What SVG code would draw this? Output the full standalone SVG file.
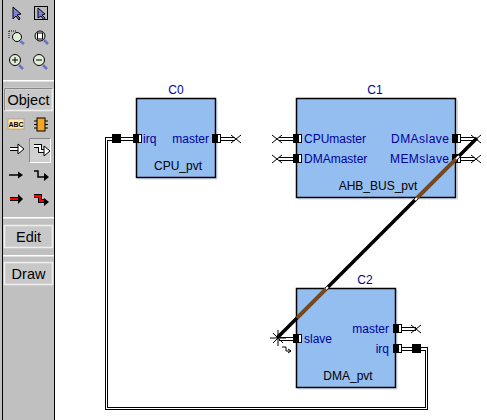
<svg xmlns="http://www.w3.org/2000/svg" width="487" height="420" viewBox="0 0 487 420">
<style>
.n{fill:#94bdf0;stroke:#000;stroke-width:1.5}
.sh{fill:none;stroke:#c4d8f2;stroke-width:1}
text{font-family:"Liberation Sans",Arial,sans-serif;font-size:12px}
.b{fill:#00009c}
.k{fill:#000}
.m{text-anchor:middle}
.e{text-anchor:end}
.w{fill:none;stroke:#000;stroke-width:1;shape-rendering:crispEdges}
.x{fill:none;stroke:#000;stroke-width:1}
.tl{font-size:14.500px;fill:#000;text-anchor:middle}
.btn{fill:#c8c8c8;stroke:#eee;stroke-width:1.500}
.ok{fill:none;stroke:#000;stroke-width:4}
.iw{fill:none;stroke:#fff;stroke-width:2}
.ir{fill:none;stroke:#f00;stroke-width:2}
.ik{fill:none;stroke:#000;stroke-width:1.500}
.lens{stroke:#000;fill:#dff0d8}
.hd{stroke:#6a70d0;stroke-width:2.500}
</style>
<defs>
<g id="pl"><rect x="0.500" y="0.500" width="8" height="8" fill="#fff" stroke="#000"/><rect x="0" y="0" width="6" height="9" fill="#000"/></g>
<path id="xm" class="x" d="M-5,-4L5,4M-5,4L5,-4"/>
<path id="stub" class="w" d="M0,137.500H14M0,140.500H14"/>
</defs>
<rect width="487" height="420" fill="#fff"/>
<g id="toolbar">
<rect x="0" y="0" width="55" height="420" fill="#c0c0c0"/>
<rect x="2" y="0" width="1" height="420" fill="#000"/>
<rect x="54" y="0" width="1" height="420" fill="#000"/>
<path d="M13,7L13,19L16,16L19,20L20,18L17,15L21,14Z" fill="#7a80e0" stroke="#000"/>
<rect x="34.500" y="6.500" width="13" height="13" fill="#bbb" stroke="#000"/>
<path d="M38,8L38,18L41,16L44,20L45,18L42,15L45,14Z" fill="#7a80e0" stroke="#000"/>
<path d="M9,31h8M9,31v8" stroke="#000" stroke-dasharray="1 1" fill="none"/>
<circle cx="17" cy="37" r="4.500" class="lens"/>
<path d="M20,41L24,44" class="hd"/>
<circle cx="40" cy="36" r="5" fill="#e8e8e8" stroke="#000"/>
<rect x="37.500" y="33" width="5" height="6" fill="#fff" stroke="#000"/>
<path d="M44,40L48,44" class="hd"/>
<circle cx="15" cy="60" r="5.500" class="lens"/>
<path d="M12,60h6M15,57v6" stroke="#000"/>
<path d="M19,65L23,69" class="hd"/>
<circle cx="39" cy="60" r="5.500" class="lens"/>
<path d="M36,60h6" stroke="#000"/>
<path d="M43,65L47,69" class="hd"/>
<rect x="3" y="80" width="51" height="1.500" fill="#fff"/>
<rect x="4.500" y="88.500" width="48" height="22" class="btn"/>
<path d="M4.500,110.500V88.500H52.500" fill="none" stroke="#888"/>
<text x="28.500" y="105" class="tl">Object</text>
<rect x="8" y="119" width="16" height="10" fill="#ffe9b0" stroke="#a08040" stroke-width="0.500"/>
<text x="16" y="127" text-anchor="middle" style="font-size:7px;font-weight:bold" fill="#000">ABC</text>
<rect x="37" y="118" width="8" height="13" fill="#f5a623" stroke="#000"/>
<path d="M34,121h3M34,124.500h3M34,128h3M45,121h3M45,124.500h3M45,128h3" stroke="#000"/>
<path d="M10,149H19" class="ok"/><path d="M10,149H20" class="iw"/>
<path d="M18,144L24,149L18,154Z" fill="#fff" stroke="#000"/>
<rect x="29.500" y="138.500" width="21" height="24" fill="#d0d0d0" stroke="#fff"/>
<path d="M29.500,162.500V138.500H50.500" fill="none" stroke="#888"/>
<path d="M34,146H40V151H45" class="ok"/><path d="M34,146H40V151H46" class="iw"/>
<path d="M44,146L50,151L44,156Z" fill="#fff" stroke="#000"/>
<path d="M9,175H19" class="ik"/>
<path d="M18,171.500L23,175L18,178.500Z" fill="#000"/>
<path d="M34,171H38V177H44" class="ik"/>
<path d="M44,173L49,177L44,181Z" fill="#000"/>
<path d="M10,199H19" class="ok"/><path d="M10,199H20" class="ir"/>
<path d="M18,194L23,199L18,204Z" fill="#000"/>
<path d="M34,196H40V201H45" class="ok"/><path d="M34,196H40V201H45" class="ir"/>
<path d="M44,198L49,202L44,206Z" fill="#000"/>
<rect x="3" y="217" width="51" height="1.500" fill="#fff"/>
<rect x="4.500" y="225.500" width="48" height="22" class="btn"/>
<text x="28.500" y="242" class="tl">Edit</text>
<rect x="3" y="255" width="51" height="1.500" fill="#fff"/>
<rect x="4.500" y="262.500" width="48" height="22" class="btn"/>
<text x="28.500" y="279" class="tl">Draw</text>
</g>
<g id="C0">
<path class="sh" d="M217,100V179H138"/>
<rect class="n" x="136.500" y="98.500" width="79" height="79"/>
<text class="b m" x="176" y="94">C0</text>
<text class="b" x="143" y="143">irq</text>
<text class="b e" x="209" y="143">master</text>
<text class="k m" x="178" y="170">CPU_pvt</text>
<use href="#pl" x="133" y="134"/>
<use href="#pl" x="212" y="134"/>
</g>
<g id="C1">
<path class="sh" d="M457.500,100V199H298"/>
<rect class="n" x="296.500" y="98.500" width="159" height="99"/>
<text class="b m" x="375" y="94">C1</text>
<text class="b" x="304" y="143">CPUmaster</text>
<text class="b" x="304" y="163">DMAmaster</text>
<text class="b e" x="449" y="143" textLength="58">DMAslave</text>
<text class="b e" x="449" y="163" textLength="59">MEMslave</text>
<text class="k m" x="378" y="190">AHB_BUS_pvt</text>
<use href="#pl" x="293" y="134"/>
<use href="#pl" x="293" y="154"/>
<use href="#pl" x="452" y="134"/>
<use href="#pl" x="452" y="154"/>
</g>
<g id="C2">
<path class="sh" d="M397,290V389H298"/>
<rect class="n" x="296.500" y="288.500" width="99" height="99"/>
<text class="b m" x="365" y="284">C2</text>
<text class="b" x="304" y="343">slave</text>
<text class="b e" x="389" y="333">master</text>
<text class="b e" x="389" y="353">irq</text>
<text class="k m" x="348" y="380">DMA_pvt</text>
<use href="#pl" x="293" y="334"/>
<use href="#pl" x="393" y="324"/>
<use href="#pl" x="393" y="344"/>
</g>
<g id="connectors">
<path class="w" d="M133,137.500H105.500V409.500H427.500V347.500H401"/>
<path class="w" d="M133,140.500H107.500V407.500H425.500V350.500H401"/>
<rect x="112" y="134" width="9" height="9" fill="#000"/>
<rect x="412" y="344" width="9" height="9" fill="#000"/>
<use href="#stub" x="221"/><use href="#xm" x="236" y="139"/>
<use href="#stub" x="279"/><use href="#xm" x="277" y="139"/>
<use href="#stub" x="279" y="20"/><use href="#xm" x="277" y="159"/>
<use href="#stub" x="461"/><use href="#xm" x="476" y="139"/>
<use href="#stub" x="461" y="20"/><use href="#xm" x="476" y="159"/>
<use href="#stub" x="402" y="190"/><use href="#xm" x="416" y="329"/>
<use href="#stub" x="279" y="200"/>
<path d="M277,338L477,138" stroke="#000" stroke-width="3.500" fill="none"/>
<path d="M297,318L326,289M417,198L456,159" stroke="#7a4a1e" stroke-width="3.500" fill="none"/>
<path d="M326,289L328,287M415,200L417,198M456,159L459,156" stroke="#fff" stroke-width="2" fill="none"/>
<path d="M270,338H286M278,330V346M273,333L283,343M273,343L283,333" stroke="#000" fill="none"/>
<path d="M282,347H286V351H291M288,349L291,351L288,353" stroke="#000" fill="none"/>
</g>
</svg>
